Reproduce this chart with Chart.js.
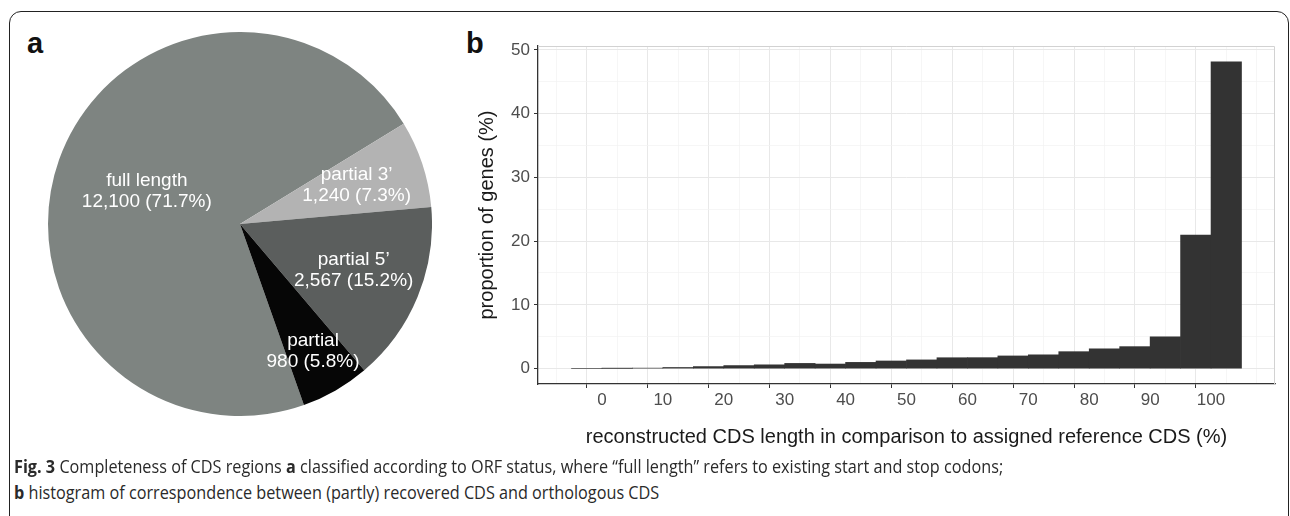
<!DOCTYPE html>
<html><head><meta charset="utf-8">
<script src="https://cdn.jsdelivr.net/npm/chart.js@4.4.0/dist/chart.umd.min.js"></script>
<style>
html,body{margin:0;padding:0;background:#fff;width:1290px;height:516px;overflow:hidden;font-family:"Liberation Sans",Arial,sans-serif;}
#frame{position:absolute;left:9px;top:11px;width:1280px;height:560px;border:1.5px solid #222;border-radius:12px;box-sizing:border-box;}
.panel{position:absolute;font-weight:bold;font-size:29px;line-height:1;color:#111;}
#pieBox{position:absolute;left:48px;top:32px;width:384px;height:384px;}
#histBox{position:absolute;left:460px;top:0;width:830px;height:460px;}
.cap{position:absolute;left:14px;white-space:nowrap;font-family:"Open Sans",sans-serif;font-size:18px;line-height:1;color:#2a2a2a;transform-origin:0 50%;}
.cap b{font-weight:700;}
</style></head>
<body>
<div id="frame"></div>
<div class="panel" style="left:27px;top:29px">a</div>
<div class="panel" style="left:466px;top:29px">b</div>
<div id="pieBox"><canvas id="pie"></canvas></div>
<div id="histBox"><canvas id="hist"></canvas></div>
<div class="cap" id="cap1" style="top:457px"><b>Fig. 3</b> Completeness of CDS regions <b>a</b> classified according to ORF status, where “full length” refers to existing start and stop codons;</div>
<div class="cap" id="cap2" style="top:483px"><b>b</b> histogram of correspondence between (partly) recovered CDS and orthologous CDS</div>
<script>
// ---- data: panel a ----
const pieCategories = ['full length', 'partial 3’', 'partial 5’', 'partial'];
const pieCounts = [12100, 1240, 2567, 980];
const pieColors = ['#7e8481', '#b3b3b3', '#5b5e5d', '#060606'];

// ---- data: panel b ----
const binStarts = [-5,0,5,10,15,20,25,30,35,40,45,50,55,60,65,70,75,80,85,90,95,100];
const binWidth = 5;
const proportions = [0,0.03,0.08,0.18,0.32,0.48,0.58,0.82,0.72,0.98,1.2,1.37,1.71,1.72,1.99,2.18,2.66,3.12,3.45,5.0,20.95,48.1];
const xGridValues = [-5,0,5,10,15,20,25,30,35,40,45,50,55,60,65,70,75,80,85,90,95,100,105];
const xLabelValues = [0,10,20,30,40,50,60,70,80,90,100];
const yGridValues = [0,5,10,15,20,25,30,35,40,45,50];
const yLabelValues = [0,10,20,30,40,50];

Chart.defaults.font.family = '"Liberation Sans", Arial, sans-serif';

const total = pieCounts.reduce((a,b)=>a+b,0);
const pieLabelPlugin = {
  id:'pieLabels',
  afterDatasetsDraw(chart, args, opts){
    const ctx = chart.ctx, meta = chart.getDatasetMeta(0);
    ctx.save();
    ctx.fillStyle = '#ffffff';
    ctx.font = '19px "Liberation Sans", Arial, sans-serif';
    ctx.textAlign = 'center'; ctx.textBaseline = 'middle';
    meta.data.forEach((arc,i)=>{
      const mid = (arc.startAngle + arc.endAngle)/2;
      const r = arc.outerRadius * opts.radius[i];
      const x = arc.x + Math.cos(mid)*r, y = arc.y + Math.sin(mid)*r;
      const pct = (pieCounts[i]/total*100).toFixed(1);
      ctx.fillText(pieCategories[i], x, y-10.5);
      ctx.fillText(pieCounts[i].toLocaleString('en-US') + ' (' + pct + '%)', x, y+10.5);
    });
    ctx.restore();
  }
};

new Chart(document.getElementById('pie'), {
  type:'pie',
  data:{labels:pieCategories, datasets:[{data:pieCounts, backgroundColor:pieColors, borderWidth:0}]},
  options:{
    responsive:true, maintainAspectRatio:false, animation:false,
    rotation:160.55,
    layout:{padding:0},
    plugins:{legend:{display:false}, tooltip:{enabled:false}, pieLabels:{radius:[0.515,0.64,0.64,0.763]}}
  },
  plugins:[pieLabelPlugin]
});

const panelBorder = {
  id:'panelBorder',
  afterDatasetsDraw(chart){
    const {ctx, chartArea:a} = chart;
    ctx.save();
    ctx.strokeStyle = '#d2d2d2'; ctx.lineWidth = 1;
    ctx.beginPath();
    ctx.moveTo(a.left, a.top+0.5); ctx.lineTo(a.right-0.5, a.top+0.5); ctx.lineTo(a.right-0.5, a.bottom);
    ctx.stroke();
    ctx.restore();
  }
};

const tickVal = c => (c && c.tick) ? c.tick.value : NaN;
const isMajor = (v, list) => list.includes(v);

new Chart(document.getElementById('hist'), {
  type:'bar',
  data:{datasets:[{
    data: binStarts.map((s,i)=>({x:s+binWidth/2, y:proportions[i]})),
    backgroundColor:'#333333', borderWidth:0,
    barPercentage:1, categoryPercentage:1
  }]},
  options:{
    responsive:true, maintainAspectRatio:false, animation:false,
    layout:{padding:{top:46,right:15,left:0,bottom:0}},
    plugins:{legend:{display:false}, tooltip:{enabled:false}},
    scales:{
      x:{
        type:'linear', offset:false, min:-10.5, max:110.5,
        afterBuildTicks:s=>{s.ticks = xGridValues.map(v=>({value:v}));},
        afterFit:s=>{s.height = 76;},
        ticks:{autoSkip:false, maxRotation:0, padding:2, color:'#4d4d4d', font:{size:17},
          callback:v=> isMajor(v, xLabelValues) ? String(v) : ''},
        grid:{
          color:c=> isMajor(tickVal(c), xLabelValues) ? '#e8e8e8' : '#f2f2f2',
          lineWidth:c=> isMajor(tickVal(c), xLabelValues) ? 1 : 0.7,
          tickColor:c=> isMajor(tickVal(c), xLabelValues) ? '#333333' : 'rgba(0,0,0,0)',
          tickLength:4
        },
        border:{display:true, color:'#333333', width:1.3},
        title:{display:true, text:'reconstructed CDS length in comparison to assigned reference CDS (%)',
          color:'#1a1a1a', font:{size:20}, padding:{top:0,bottom:11}}
      },
      y:{
        min:-2.41, max:50.6,
        afterBuildTicks:s=>{s.ticks = yGridValues.map(v=>({value:v}));},
        afterFit:s=>{s.width = 78;},
        ticks:{padding:4, color:'#4d4d4d', font:{size:17},
          callback:v=> isMajor(v, yLabelValues) ? String(v) : ''},
        grid:{
          color:c=> isMajor(tickVal(c), yLabelValues) ? '#e8e8e8' : '#f2f2f2',
          lineWidth:c=> isMajor(tickVal(c), yLabelValues) ? 1 : 0.7,
          tickColor:c=> isMajor(tickVal(c), yLabelValues) ? '#333333' : 'rgba(0,0,0,0)',
          tickLength:4
        },
        border:{display:true, color:'#333333', width:1.3},
        title:{display:true, text:'proportion of genes (%)', color:'#1a1a1a', font:{size:20}, padding:{top:15,bottom:0}}
      }
    }
  },
  plugins:[panelBorder]
});

// fit caption width to the reference line length
const c1 = document.getElementById('cap1'), c2 = document.getElementById('cap2');
const sc = 989 / c1.offsetWidth;
c1.style.transform = 'scaleX(' + sc + ')';
c2.style.transform = 'scaleX(' + sc + ')';
</script>
</body></html>
